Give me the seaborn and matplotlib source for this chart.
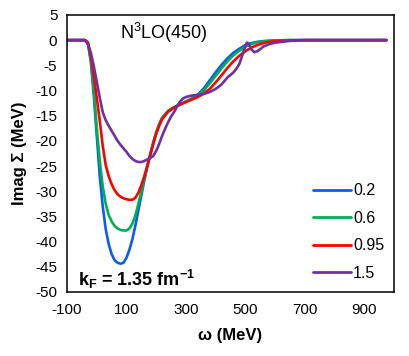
import numpy as np
import pandas as pd
import matplotlib
matplotlib.use("Agg")
import matplotlib.pyplot as plt
import seaborn as sns

# ---- data ----
omega_blue = [-100, -40, -30, -20, -10, 0, 10, 20, 30, 40, 50, 60, 70, 80, 90, 100, 110, 120, 130, 140,
              150, 160, 170, 180, 190, 200, 210, 220, 240, 260, 280, 300, 320, 340, 360, 380, 400, 420,
              440, 460, 480, 500, 520, 540, 560, 600, 650, 700, 800, 900, 975]
imag_blue = [0, 0, -0.6, -4.3, -11, -19, -27, -33, -37.5, -40.5, -42.5, -43.7, -44.2, -44.4, -44.2, -43.2,
             -41.6, -39.5, -36.8, -33.8, -30.8, -27.9, -25.2, -22.8, -20.5, -18.4, -16.8, -15.5, -14.2,
             -13.4, -12.8, -12.2, -11.6, -10.8, -9.6, -8.0, -6.4, -4.9, -3.6, -2.5, -1.7, -1.0, -0.6,
             -0.35, -0.2, -0.05, 0, 0, 0, 0, 0]

omega_green = [-100, -40, -30, -20, -10, 0, 10, 20, 30, 40, 50, 60, 70, 80, 90, 100, 110, 120, 130, 140,
               150, 160, 170, 180, 190, 200, 210, 220, 240, 260, 280, 300, 320, 340, 360, 380, 400, 420,
               440, 460, 480, 500, 520, 540, 560, 600, 650, 700, 800, 900, 975]
imag_green = [0, 0, -0.5, -3.9, -10, -17.5, -24, -29, -32.5, -34.7, -36, -36.9, -37.4, -37.7, -37.8, -37.8,
              -37.4, -36.4, -34.8, -32.5, -30, -27.5, -25, -22.6, -20.3, -18.3, -16.7, -15.4, -14.0,
              -13.3, -12.7, -12.2, -11.7, -11.0, -10.0, -8.6, -7.1, -5.6, -4.2, -3.0, -2.1, -1.3, -0.8,
              -0.45, -0.25, -0.08, 0, 0, 0, 0, 0]

omega_red = [-100, -40, -30, -20, -10, 0, 10, 20, 30, 40, 50, 60, 70, 80, 90, 100, 110, 120, 130, 140,
             150, 160, 170, 180, 190, 200, 210, 220, 240, 260, 280, 300, 320, 340, 360, 380, 400, 420,
             440, 460, 480, 500, 520, 540, 560, 580, 600, 650, 700, 800, 900, 975]
imag_red = [0, 0, -0.4, -3.3, -7.2, -11.5, -16, -21, -24.8, -27, -28.6, -29.8, -30.6, -31.1, -31.4, -31.6,
            -31.7, -31.7, -31.3, -30.3, -28.8, -27, -25, -22.8, -20.6, -18.6, -17.0, -15.7, -14.2, -13.4,
            -12.8, -12.3, -11.8, -11.3, -10.6, -9.7, -8.4, -7.0, -5.5, -4.2, -3.1, -2.2, -1.5, -1.0,
            -0.6, -0.35, -0.2, -0.05, 0, 0, 0, 0]

omega_purple = [-100, -40, -30, -20, -10, 0, 10, 20, 30, 40, 50, 60, 70, 80, 90, 100, 110, 120, 130, 140,
                150, 160, 170, 180, 190, 200, 210, 220, 230, 240, 250, 260, 270, 280, 290, 300, 320, 340,
                360, 380, 400, 420, 440, 460, 470, 480, 490, 500, 505, 510, 520, 530, 540, 550, 560, 580,
                600, 650, 700, 800, 900, 975]
imag_purple = [0, 0, -0.8, -2.5, -5.2, -8.3, -11.4, -14.3, -15.9, -17.0, -18.0, -19.0, -20.0, -20.8, -21.5,
               -22.2, -23.0, -23.6, -24.0, -24.2, -24.2, -24.0, -23.7, -23.4, -23.0, -22.0, -20.6, -19.0,
               -17.6, -16.3, -15.2, -14.3, -13.2, -12.2, -11.6, -11.3, -11.0, -10.9, -10.7, -10.3, -9.7,
               -8.8, -7.4, -6.4, -5.7, -4.7, -3.0, -1.2, -0.5, -0.6, -1.8, -2.4, -2.2, -1.8, -1.3, -0.8,
               -0.5, -0.15, 0, 0, 0, 0]

series_labels = ["0.2", "0.6", "0.95", "1.5"]
series_colors = ["#0A5CF5", "#00B050", "#FF0000", "#7030A0"]
x_ticks = [-100, 100, 300, 500, 700, 900]
y_ticks = list(range(-50, 6, 5))

frames = []
for lab, om, im in zip(series_labels,
                       [omega_blue, omega_green, omega_red, omega_purple],
                       [imag_blue, imag_green, imag_red, imag_purple]):
    frames.append(pd.DataFrame({"omega": om, "imag": im, "kappa": lab}))
df = pd.concat(frames, ignore_index=True)

sns.set_theme(style="white")
plt.rcParams["font.family"] = ["Liberation Sans", "DejaVu Sans"]
plt.rcParams["axes.unicode_minus"] = False
plt.rcParams["mathtext.fontset"] = "custom"
plt.rcParams["mathtext.rm"] = "Liberation Sans"
plt.rcParams["mathtext.bf"] = "Liberation Sans:bold"
plt.rcParams["mathtext.it"] = "Liberation Sans:italic"
plt.rcParams["text.color"] = "black"
plt.rcParams["axes.labelcolor"] = "black"
plt.rcParams["xtick.color"] = "black"
plt.rcParams["ytick.color"] = "black"

fig = plt.figure(figsize=(4.09, 3.56), dpi=100)
ax = fig.add_axes([0.164, 0.180, 0.799, 0.778])

sns.lineplot(data=df, x="omega", y="imag", hue="kappa", hue_order=series_labels,
             palette=series_colors, linewidth=1.9, sort=False, estimator=None, ax=ax)

ax.set_xlim(-100, 1000)
ax.set_ylim(-50, 5)
ax.set_xticks(x_ticks)
ax.set_yticks(y_ticks)
ax.tick_params(axis="both", direction="inout", length=6, width=1.0, color="black",
               labelsize=11, labelcolor="black")
ax.tick_params(axis="y", pad=4)
ax.tick_params(axis="x", pad=5)
for s in ax.spines.values():
    s.set_color("black")
    s.set_linewidth(1.1)

ax.set_xlabel("ω (MeV)", fontsize=12, fontweight="bold", labelpad=8, color="black")
ax.set_ylabel("Imag Σ (MeV)", fontsize=12, fontweight="bold", labelpad=6, color="black")

ax.text(78, 1.4, r"N$^{3}$LO(450)", fontsize=13, ha="left", va="center", color="black")
ax.text(-64, -47.6, r"$\mathbf{k_F}$ = 1.35 fm$^{\mathbf{-1}}$", fontsize=13, fontweight="bold",
        ha="left", va="center", color="black")

leg = ax.legend(loc="lower right", bbox_to_anchor=(0.99, 0.017), frameon=False, fontsize=11.5,
                handlelength=2.4, handletextpad=0.1, labelspacing=0.78, borderaxespad=0)
for text in leg.get_texts():
    text.set_color("black")
for line in leg.get_lines():
    line.set_linewidth(2.0)

fig.savefig("out.png", dpi=100)
